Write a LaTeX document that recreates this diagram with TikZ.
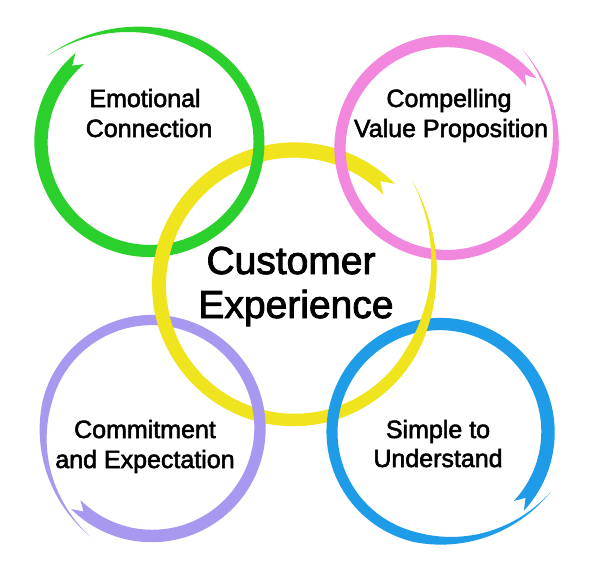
\documentclass[tikz,border=0pt]{standalone}
\usepackage{fontspec}
\setmainfont{Liberation Sans}
\newfontfamily\labfont{Liberation Sans}[FakeBold=2.2]
\definecolor{cgreen}{RGB}{44,208,44}
\definecolor{cpink}{RGB}{242,136,222}
\definecolor{cyellow}{RGB}{240,228,30}
\definecolor{cpurple}{RGB}{168,152,240}
\definecolor{cblue}{RGB}{30,156,232}
% cx, cy, R, a0, sweep, W, D, colour
\newcommand{\brushstroke}[8]{%
  \fill[#8] plot[domain=0:1,samples=160,variable=\t]
   ({#1+(#3+(#7)*(max(0,(\t-0.8)/0.2))^2+0.5*(#6)*(1-0.35*\t)*min(1,(1-\t)/0.2))*cos((#4)+(#5)*\t)},
    {#2+(#3+(#7)*(max(0,(\t-0.8)/0.2))^2+0.5*(#6)*(1-0.35*\t)*min(1,(1-\t)/0.2))*sin((#4)+(#5)*\t)})
   -- plot[domain=1:0,samples=160,variable=\t]
   ({#1+(#3+(#7)*(max(0,(\t-0.8)/0.2))^2-0.5*(#6)*(1-0.35*\t)*min(1,(1-\t)/0.2))*cos((#4)+(#5)*\t)},
    {#2+(#3+(#7)*(max(0,(\t-0.8)/0.2))^2-0.5*(#6)*(1-0.35*\t)*min(1,(1-\t)/0.2))*sin((#4)+(#5)*\t)})
   -- ({#1+(#3)*cos((#4)+(#5)*0.015)},{#2+(#3)*sin((#4)+(#5)*0.015)}) -- cycle;}
\newcommand{\yellowstroke}{\brushstroke{294}{285}{135}{-45}{-357}{16}{23}{cyellow}}
\begin{document}
\begin{tikzpicture}[x=1pt,y=-1pt,
  small/.style={anchor=base,inner sep=0pt,font=\labfont\fontsize{25}{30}\selectfont},
  big/.style={anchor=base,inner sep=0pt,font=\labfont\fontsize{39}{44}\selectfont}]
\fill[white] (0,0) rectangle (600,578);
\useasboundingbox (0,0) rectangle (600,578);
% yellow (centre)
\yellowstroke
% green
\brushstroke{150}{142}{109}{230}{-370}{14}{25}{cgreen}
% pink
\brushstroke{447}{148}{107}{-37.7}{-375}{13}{17}{cpink}
% purple
\brushstroke{152}{428}{108}{135}{-375.6}{13}{17}{cpurple}
% blue
\brushstroke{440}{432}{108}{43.2}{-375}{14}{18}{cblue}
% yellow woven over at some crossings
\begin{scope}
\clip (162,251) circle (20) (431,252) circle (20) (162,320) circle (20) (424,324) circle (20);
\yellowstroke
\end{scope}
% texts
\node[small] (emo1) at (145,107) {Emotional};
\node[small] (emo2) at (149,137) {Connection};
\node[small] (com1) at (449,107) {Compelling};
\node[small] (com2) at (451,137) {Value Proposition};
\node[small] (cmt1) at (145,438) {Commitment};
\node[small] (cmt2) at (145,468) {and Expectation};
\node[small] (sim1) at (438,438) {Simple to};
\node[small] (sim2) at (438,467) {Understand};
\node[big] (cx1) at (291,274) {Customer};
\node[big] (cx2) at (296,318) {Experience};
\end{tikzpicture}
\end{document}
